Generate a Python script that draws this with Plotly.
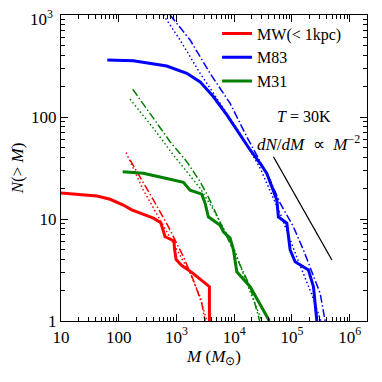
import plotly.graph_objects as go

# cumulative mass functions N(>M)
mw_m = [10, 42, 71, 120, 168, 267, 398, 535, 580, 635, 910, 920, 985, 1235, 1840, 3720, 3720]
mw_n = [18.0, 16.8, 15.6, 13.7, 12.3, 11.2, 10.2, 9.2, 7.8, 6.7, 6.1, 5.2, 4.0, 3.5, 3.0, 2.17, 1.0]
mw_dot_m = [134, 267, 520, 1010, 1720, 2570, 3350]
mw_dot_n = [44.7, 19.2, 9.8, 4.97, 2.94, 1.73, 1.0]
mw_dd_m = [157, 234, 398, 724, 1320, 1960, 2740, 3130]
mw_dd_n = [37.9, 26.0, 15.4, 8.4, 4.27, 2.52, 1.49, 1.0]

m31_m = [117, 267, 774, 1318, 1720, 2740, 3130, 3570, 5700, 6500, 8490, 9690, 11100, 18900, 40700]
m31_n = [29.1, 28.1, 24.5, 22.9, 19.2, 17.5, 14.3, 10.5, 8.7, 7.5, 6.5, 5.0, 3.04, 2.17, 1.0]
m31_dot_m = [157, 398, 883, 1507, 2570, 4370, 9690, 16500, 26300, 30200]
m31_dot_n = [150, 77.5, 42.4, 29.1, 20.0, 12.3, 5.35, 2.34, 1.23, 1.0]
m31_dd_m = [175, 398, 774, 1507, 2570, 3430, 4670, 11800, 18900, 27600]
m31_dd_n = [187, 97, 57.3, 36.5, 23.2, 17.2, 11.8, 3.96, 2.17, 1.0]

m83_m = [63.4, 179, 679, 1510, 2570, 4370, 7450, 12600, 18900, 28100, 36700, 54700, 58300,
         81500, 93100, 113600, 193000, 236000, 270000]
m83_n = [362, 356, 316, 268, 221, 158, 105, 66.6, 47.5, 35.2, 28.0, 15.4, 10.5,
         9.1, 4.97, 3.81, 3.16, 2.17, 1.0]
m83_dot_m = [593, 1153, 2570, 5700, 12600, 28100, 63000, 126000, 224000, 316000]
m83_dot_n = [1000, 569, 268, 136, 69.2, 31.6, 11.2, 4.0, 1.78, 1.0]
m83_dd_m = [774, 1720, 3820, 8490, 16500, 41900, 62500, 106000, 158000, 221000, 308000, 376000]
m83_dd_n = [1000, 569, 268, 136, 64.1, 24.1, 14.3, 8.4, 4.97, 3.04, 1.87, 1.0]

slope_m = [47800, 492000]
slope_n = [40.8, 3.96]

x_ticks = [10, 100, 1e3, 1e4, 1e5, 1e6]
x_labels = ["10", "100", "10<sup>3</sup>", "10<sup>4</sup>", "10<sup>5</sup>", "10<sup>6</sup>"]
y_ticks = [1, 10, 100, 1000]
y_labels = ["1", "10", "100", ""]  # top label drawn as annotation so it isn't clipped
y_top_label = "10<sup>3</sup>"

RED, BLUE, GREEN = "#ff0000", "#0000ff", "#008000"
DOT = "1.5px,2.5px"
DASHDOT = "8px,2.5px,1.5px,2.5px"
FONT = "Liberation Serif"

fig = go.Figure()

for m, n, c in [(mw_dot_m, mw_dot_n, RED), (m31_dot_m, m31_dot_n, GREEN), (m83_dot_m, m83_dot_n, BLUE)]:
    fig.add_trace(go.Scatter(x=m, y=n, mode="lines", showlegend=False,
                             line=dict(color=c, width=1.5, dash=DOT)))
for m, n, c in [(mw_dd_m, mw_dd_n, RED), (m31_dd_m, m31_dd_n, GREEN), (m83_dd_m, m83_dd_n, BLUE)]:
    fig.add_trace(go.Scatter(x=m, y=n, mode="lines", showlegend=False,
                             line=dict(color=c, width=1.5, dash=DASHDOT)))

fig.add_trace(go.Scatter(x=mw_m, y=mw_n, mode="lines", name="MW(< 1kpc)", legendgroup="a",
                         line=dict(color=RED, width=3)))
fig.add_trace(go.Scatter(x=m83_m, y=m83_n, mode="lines", name="M83", legendgroup="b",
                         line=dict(color=BLUE, width=3)))
fig.add_trace(go.Scatter(x=m31_m, y=m31_n, mode="lines", name="M31", legendgroup="c",
                         line=dict(color=GREEN, width=3)))
fig.add_trace(go.Scatter(x=slope_m, y=slope_n, mode="lines", showlegend=False,
                         line=dict(color="black", width=1.3)))

minor_x = [k * 10 ** e for e in range(1, 7) for k in range(2, 10)]
minor_y = [k * 10 ** e for e in range(0, 3) for k in range(2, 10)]

axis_common = dict(type="log", showgrid=False, zeroline=False, showline=True, linecolor="black",
                   linewidth=1.2, mirror="allticks", ticks="inside", ticklen=7, tickcolor="black",
                   tickwidth=1, automargin=False, ticklabeloverflow="allow",
                   tickfont=dict(family=FONT, size=17, color="black"), tickmode="array")

fig.update_xaxes(**axis_common, range=[1, 6.3], tickvals=x_ticks, ticktext=x_labels,
                 minor=dict(tickmode="array", tickvals=minor_x, ticks="inside", ticklen=3.5,
                            tickcolor="black", showgrid=False),
                 title=dict(text="<i>M</i> (<i>M</i><sub>⊙</sub>)", standoff=4,
                            font=dict(family=FONT, size=17, color="black")))
fig.update_yaxes(**axis_common, range=[0, 3], tickvals=y_ticks, ticktext=y_labels,
                 minor=dict(tickmode="array", tickvals=minor_y, ticks="inside", ticklen=3.5,
                            tickcolor="black", showgrid=False),
                 title=dict(text="<i>N</i>(> <i>M</i>)", standoff=17,
                            font=dict(family=FONT, size=17, color="black")))

fig.add_annotation(x=0, y=1, xref="paper", yref="paper", showarrow=False,
                   xanchor="right", yanchor="middle", xshift=-6, yshift=-3,
                   text=y_top_label, font=dict(family=FONT, size=17, color="black"))
fig.add_annotation(x=0.795, y=0.667, xref="paper", yref="paper", showarrow=False,
                   xanchor="center", yanchor="middle",
                   text="<i>T</i> = 30K", font=dict(family=FONT, size=16, color="black"))
fig.add_annotation(x=0.81, y=0.582, xref="paper", yref="paper", showarrow=False,
                   xanchor="center", yanchor="middle",
                   text="<i>dN</i>/<i>dM</i>  ∝  <i>M</i><sup>−2</sup>",
                   font=dict(family=FONT, size=17, color="black"))

# page body adds an 8px margin, so the figure is 366px and the plot area sits at 61..367
fig.update_layout(
    width=366, height=366,
    margin=dict(l=53, r=7, t=7, b=53, autoexpand=False),
    paper_bgcolor="white", plot_bgcolor="white",
    legend=dict(x=0.51, y=0.995, xanchor="left", yanchor="top", bgcolor="rgba(0,0,0,0)",
                font=dict(family=FONT, size=16, color="black"), tracegroupgap=0,
                itemwidth=30),
)

fig.write_html("out.html")
